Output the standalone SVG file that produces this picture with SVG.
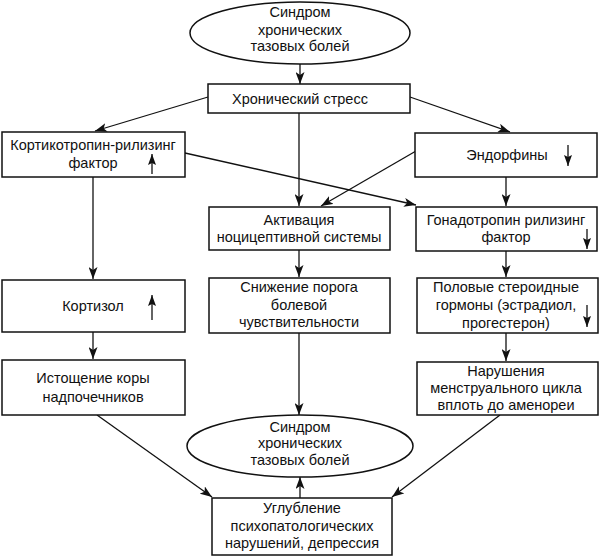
<svg xmlns="http://www.w3.org/2000/svg" width="600" height="557" viewBox="0 0 600 557">
<style>
.b{fill:#fff;stroke:#111;stroke-width:1.5}
.t{font-family:"Liberation Sans",Arial,sans-serif;font-size:14.5px;fill:#111;text-anchor:middle}
.c{stroke:#111;stroke-width:1.3;fill:none;marker-end:url(#ah)}
.i{stroke:#111;stroke-width:1.3;fill:none;marker-end:url(#sh)}
</style>
<defs>
<marker id="ah" markerUnits="userSpaceOnUse" markerWidth="13" markerHeight="9" refX="12" refY="4.5" orient="auto"><path d="M0,0 L12,4.5 L0,9 L3,4.5 z" fill="#111"/></marker>
<marker id="sh" markerUnits="userSpaceOnUse" markerWidth="12" markerHeight="8" refX="11" refY="4" orient="auto"><path d="M0,0 L11,4 L0,8 L2,4 z" fill="#111"/></marker>
</defs>
<rect width="600" height="557" fill="#fff"/>
<g id="connectors">
<line class="c" x1="300" y1="64" x2="300" y2="84"/>
<line class="c" x1="208" y1="97" x2="95" y2="131"/>
<line class="c" x1="410" y1="97" x2="510" y2="132"/>
<line class="c" x1="299" y1="113" x2="299" y2="206"/>
<line class="c" x1="185" y1="153" x2="416" y2="205"/>
<line class="c" x1="416" y1="151" x2="321" y2="206"/>
<line class="c" x1="93" y1="177" x2="93" y2="279"/>
<line class="c" x1="93" y1="332" x2="93" y2="359"/>
<line class="c" x1="506" y1="177" x2="506" y2="206"/>
<line class="c" x1="506" y1="251" x2="506" y2="277"/>
<line class="c" x1="506" y1="333" x2="506" y2="361"/>
<line class="c" x1="299" y1="250" x2="299" y2="277"/>
<line class="c" x1="299" y1="333" x2="299" y2="415"/>
<line class="c" x1="300" y1="498" x2="300" y2="477"/>
<line class="c" x1="97" y1="415" x2="212" y2="497"/>
<line class="c" x1="500" y1="415" x2="392" y2="497"/>
</g>
<g id="top-syndrome">
<ellipse class="b" cx="300" cy="33" rx="110" ry="31"/>
<text class="t" x="300" y="17">Синдром</text>
<text class="t" x="300" y="35">хронических</text>
<text class="t" x="300" y="51">тазовых болей</text>
</g>
<g id="stress">
<rect class="b" x="208" y="84" width="202" height="29"/>
<text class="t" x="300" y="104">Хронический стресс</text>
</g>
<g id="crf">
<rect class="b" x="2" y="132" width="183" height="45"/>
<text class="t" x="93" y="150">Кортикотропин-рилизинг</text>
<text class="t" x="93" y="168">фактор</text>
<line class="i" x1="152" y1="174" x2="152" y2="154"/>
</g>
<g id="endorphins">
<rect class="b" x="415" y="133" width="182" height="44"/>
<text class="t" x="507" y="160">Эндорфины</text>
<line class="i" x1="568" y1="145" x2="568" y2="166"/>
</g>
<g id="nociceptive">
<rect class="b" x="209" y="207" width="181" height="43"/>
<text class="t" x="299" y="225">Активация</text>
<text class="t" x="299" y="242">ноцицептивной системы</text>
</g>
<g id="gnrh">
<rect class="b" x="416" y="207" width="181" height="44"/>
<text class="t" x="506" y="225">Гонадотропин рилизинг</text>
<text class="t" x="506" y="242">фактор</text>
<line class="i" x1="587" y1="229" x2="587" y2="249"/>
</g>
<g id="cortisol">
<rect class="b" x="2" y="280" width="183" height="52"/>
<text class="t" x="93" y="311">Кортизол</text>
<line class="i" x1="152" y1="320" x2="152" y2="295"/>
</g>
<g id="threshold">
<rect class="b" x="209" y="278" width="181" height="55"/>
<text class="t" x="299" y="292">Снижение порога</text>
<text class="t" x="299" y="310">болевой</text>
<text class="t" x="299" y="327">чувствительности</text>
</g>
<g id="steroids">
<rect class="b" x="417" y="278" width="181" height="55"/>
<text class="t" x="506" y="292">Половые стероидные</text>
<text class="t" x="506" y="310">гормоны (эстрадиол,</text>
<text class="t" x="506" y="328">прогестерон)</text>
<line class="i" x1="587" y1="305" x2="587" y2="327"/>
</g>
<g id="adrenal">
<rect class="b" x="2" y="360" width="183" height="55"/>
<text class="t" x="93" y="383">Истощение коры</text>
<text class="t" x="93" y="402">надпочечников</text>
</g>
<g id="menstrual">
<rect class="b" x="417" y="362" width="181" height="53"/>
<text class="t" x="506" y="376">Нарушения</text>
<text class="t" x="506" y="393">менструального цикла</text>
<text class="t" x="506" y="410">вплоть до аменореи</text>
</g>
<g id="bottom-syndrome">
<ellipse class="b" cx="300" cy="446" rx="113" ry="31"/>
<text class="t" x="300" y="432">Синдром</text>
<text class="t" x="300" y="448">хронических</text>
<text class="t" x="300" y="465">тазовых болей</text>
</g>
<g id="depression">
<rect class="b" x="212" y="498" width="180" height="57"/>
<text class="t" x="302" y="513">Углубление</text>
<text class="t" x="302" y="531">психопатологических</text>
<text class="t" x="302" y="548">нарушений, депрессия</text>
</g>
</svg>
